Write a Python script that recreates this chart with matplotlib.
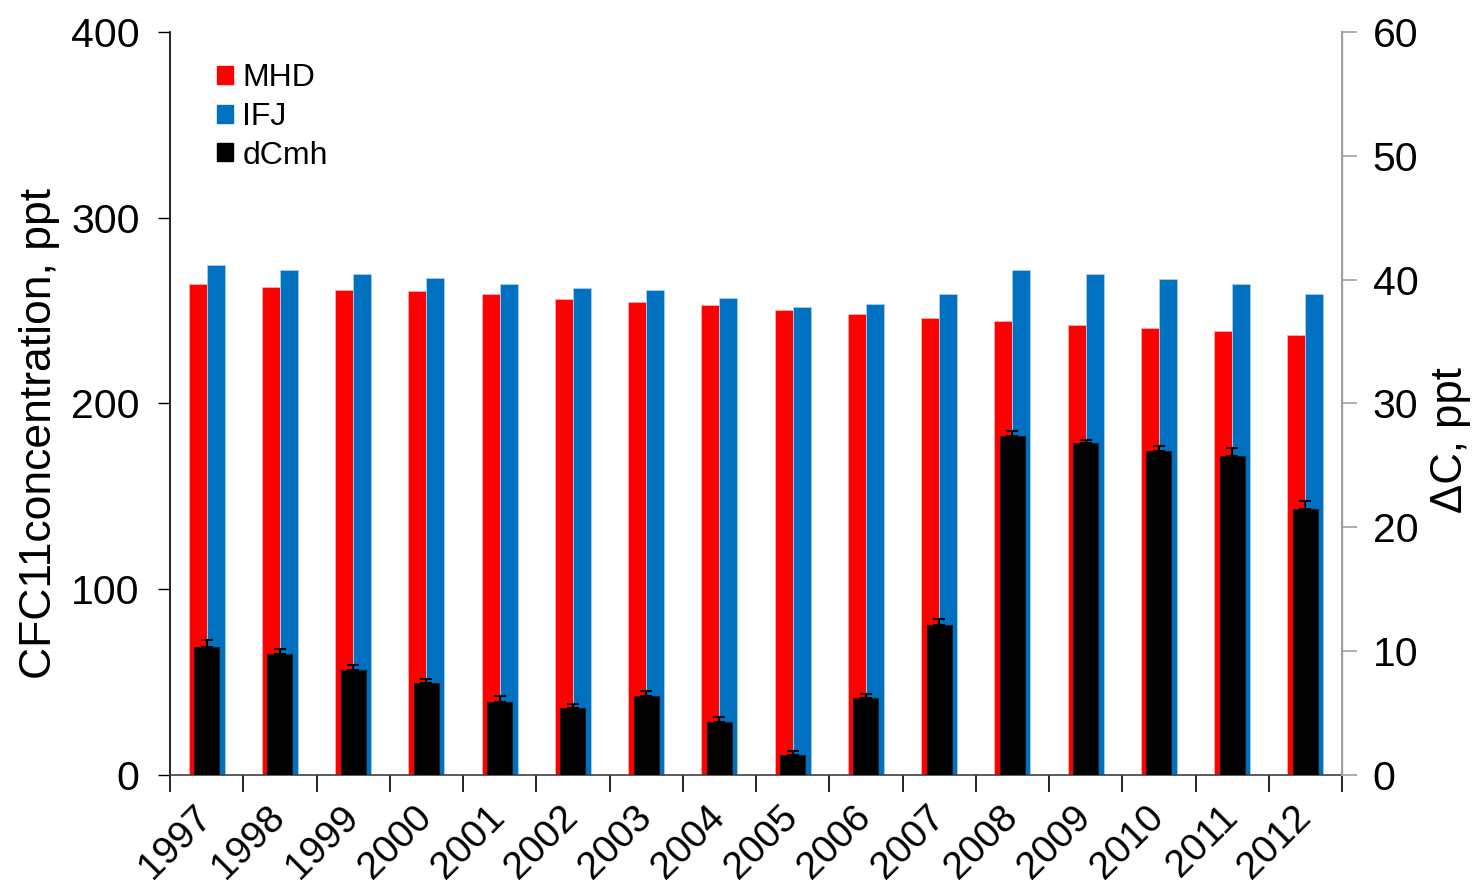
import numpy as np
import matplotlib.pyplot as plt
import matplotlib.transforms as mtransforms
from matplotlib.patches import Patch

plt.rcParams['font.family'] = ['Liberation Sans', 'DejaVu Sans']

years = ['1997', '1998', '1999', '2000', '2001', '2002', '2003', '2004',
         '2005', '2006', '2007', '2008', '2009', '2010', '2011', '2012']
mhd = [264.5, 262.7, 261.1, 260.4, 258.7, 256.0, 254.4, 253.0,
       250.3, 248.0, 246.1, 244.6, 242.0, 240.4, 238.9, 237.0]
ifj = [274.4, 271.9, 269.5, 267.7, 264.5, 262.0, 260.9, 256.9,
       251.9, 253.7, 258.7, 271.9, 269.5, 266.8, 264.5, 258.7]
dcmh = [10.3, 9.8, 8.5, 7.4, 5.9, 5.4, 6.4, 4.3,
        1.6, 6.2, 12.1, 27.4, 26.8, 26.2, 25.8, 21.5]
dcmh_err = [0.6, 0.35, 0.35, 0.35, 0.45, 0.35, 0.35, 0.35,
            0.35, 0.35, 0.5, 0.4, 0.25, 0.35, 0.6, 0.6]

red = '#ff0000'
blue = '#0070c0'

x = np.arange(len(years))
fig = plt.figure(figsize=(14.8, 8.92), dpi=100)
ax = fig.add_axes([0.1149, 0.1312, 0.7919, 0.8329])

w = 0.246
ax.bar(x - w / 2, mhd, w, color=red, edgecolor='#ffb0b0', linewidth=0.6)
ax.bar(x + w / 2, ifj, w, color=blue, edgecolor='#a8cdea', linewidth=0.6)
ax.set_xlim(-0.5, len(years) - 0.5)
ax.set_ylim(0, 400)
ax.set_yticks([0, 100, 200, 300, 400])
ax.set_ylabel('CFC11concentration, ppt', fontsize=32)
ax.yaxis.set_label_coords(-0.094, 0.46)

ax2 = ax.twinx()
ax2.bar(x, dcmh, 0.34, color='black', edgecolor='#202020', linewidth=0.8,
        yerr=[np.zeros(len(dcmh)), dcmh_err],
        error_kw=dict(ecolor='black', elinewidth=1.5, capsize=4.5, capthick=1.5))
ax2.set_ylim(0, 60)
ax2.set_yticks([0, 10, 20, 30, 40, 50, 60])
ax2.set_ylabel('ΔC, ppt', fontsize=31.5)
ax2.yaxis.set_label_coords(1.075, 0.451)

# x ticks at category boundaries, labels at centres
ax.set_xticks(np.arange(-0.5, len(years), 1.0))
ax.set_xticklabels([])
ax.set_xticks(x, minor=True)
ax.set_xticklabels(years, minor=True, rotation=45, ha='right',
                   rotation_mode='anchor', fontsize=28)
ax.tick_params(axis='x', which='major', direction='out', length=12, width=1.2)
ax.tick_params(axis='x', which='minor', length=0, pad=17)
ax.tick_params(axis='y', direction='out', length=9, width=1.0, labelsize=29.5, pad=13)
ax2.tick_params(axis='y', direction='out', length=11, width=1.2, labelsize=29.5,
                color='#a0a0a0', pad=11)

# nudge year labels left (after tick_params, which resets transforms)
shift = mtransforms.ScaledTranslation(-0.13, 0, fig.dpi_scale_trans)
for lab in ax.get_xticklabels(minor=True):
    lab.set_transform(lab.get_transform() + shift)

for a in (ax, ax2):
    a.spines['top'].set_visible(False)
ax.spines['left'].set_linewidth(1.2)
ax.spines['bottom'].set_linewidth(1.2)
ax.spines['bottom'].set_color('#404040')
ax2.spines['right'].set_color('#a0a0a0')
ax2.spines['right'].set_linewidth(1.5)
ax2.spines['left'].set_visible(False)
ax2.spines['bottom'].set_visible(False)

handles = [Patch(color=red, label='MHD'), Patch(color=blue, label='IFJ'),
           Patch(color='black', label='dCmh')]
ax2.legend(handles=handles, loc='upper left', bbox_to_anchor=(0.029, 0.975),
           frameon=False, fontsize=23, handlelength=0.5, handleheight=0.5,
           handletextpad=0.3, labelspacing=0.27, borderaxespad=0)

fig.savefig('out.png', dpi=100)
